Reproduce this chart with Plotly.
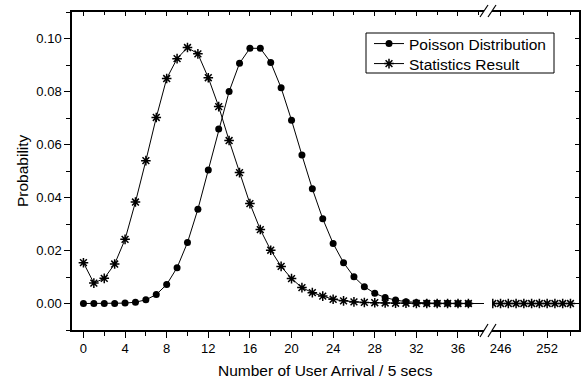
import plotly.graph_objects as go

# ---- data ----
poisson_x = list(range(0, 38))
poisson_y = [0.0000000, 0.0000007, 0.0000060, 0.0000339, 0.000144, 0.000490, 0.001388,
             0.003371, 0.007163, 0.01353, 0.02300, 0.03555, 0.05036, 0.06586, 0.07997,
             0.09063, 0.09630, 0.09630, 0.09095, 0.08138, 0.06917, 0.05600, 0.04327,
             0.03198, 0.02265, 0.01540, 0.01007, 0.00634, 0.00385, 0.00226, 0.00128,
             0.00070, 0.00037, 0.00019, 0.00010, 0.00005, 0.00002, 0.00001]

stat_x = list(range(0, 38)) + list(range(245, 256))
stat_y = [0.0154, 0.0077, 0.0095, 0.0149, 0.0242, 0.0383, 0.0539, 0.0702, 0.0849,
          0.0924, 0.0966, 0.0942, 0.0852, 0.0743, 0.0615, 0.0494, 0.0377, 0.0279,
          0.0201, 0.0140, 0.0094, 0.0060, 0.0041, 0.0028, 0.0016, 0.0010, 0.0006,
          0.0004, 0.0003, 0.0002, 0.0001, 0.0001, 0.0, 0.0, 0.0, 0.0, 0.0, 0.0] + [0.0] * 11

x1_ticks = [0, 4, 8, 12, 16, 20, 24, 28, 32, 36]
x2_ticks = [246, 252]
x2_minor = [249, 255]
y_ticks = [0.00, 0.02, 0.04, 0.06, 0.08, 0.10]

FONT = "Liberation Sans, Arial, sans-serif"
W, H = 585, 383
L, R, T, B = 72, 6, 12, 53
PW, PH = W - L - R, H - T - B

def px_x(p):
    return (p - L) / PW

def px_y(p):
    return (H - B - p) / PH

f1 = px_x(484)
f2 = px_x(492)
X1R = [-1.1, 38.5]
X2R = [244.9, 256.1]
YR = [-0.01, 0.11]

circle = dict(symbol="circle", size=7, color="black")
star = dict(symbol="asterisk-open", size=8, color="black", line=dict(color="black", width=1.5))
blk = dict(color="black", width=1)

fig = go.Figure()
fig.add_trace(go.Scatter(x=poisson_x, y=poisson_y, mode="lines+markers", name="Poisson Distribution",
                         line=blk, marker=circle, xaxis="x", yaxis="y", legend="legend"))
fig.add_trace(go.Scatter(x=stat_x, y=stat_y, mode="lines+markers", name="Statistics Result",
                         line=blk, marker=star, xaxis="x", yaxis="y", legend="legend2"))
fig.add_trace(go.Scatter(x=stat_x, y=stat_y, mode="lines+markers", name="Statistics Result",
                         showlegend=False, line=blk, marker=star, xaxis="x2", yaxis="y"))
# empty traces so the mirrored frame axes get drawn
for xa, ya in [("x3", "y"), ("x4", "y"), ("x2", "y2")]:
    fig.add_trace(go.Scatter(x=[None], y=[None], xaxis=xa, yaxis=ya, showlegend=False,
                             hoverinfo="skip", mode="lines"))

axis_common = dict(showgrid=False, zeroline=False, showline=True, linecolor="black", linewidth=1.5,
                   tickcolor="black", tickwidth=1, tickfont=dict(family=FONT, size=13, color="black"))

leg_common = dict(xanchor="left", yanchor="middle", borderwidth=0, bgcolor="rgba(0,0,0,0)",
                  font=dict(family=FONT, size=15.5, color="black"), itemwidth=30)

fig.update_layout(
    width=W, height=H,
    margin=dict(l=L, r=R, t=T, b=B),
    paper_bgcolor="white", plot_bgcolor="white",
    font=dict(family=FONT, color="black"),
    xaxis=dict(domain=[0, f1], range=X1R, tickvals=x1_ticks, ticks="outside", ticklen=6,
               minor=dict(dtick=2, tick0=0, ticks="outside", ticklen=4, tickcolor="black"),
               anchor="y", **axis_common),
    xaxis2=dict(domain=[f2, 1], range=X2R, tickvals=x2_ticks, ticks="outside", ticklen=6,
                minor=dict(tickvals=x2_minor, ticks="outside", ticklen=4, tickcolor="black"),
                anchor="y", **axis_common),
    xaxis3=dict(overlaying="x", side="top", anchor="y", range=X1R, tickvals=x1_ticks,
                ticks="inside", ticklen=4, showticklabels=False,
                minor=dict(dtick=2, tick0=0, ticks="inside", ticklen=3, tickcolor="black"),
                **axis_common),
    xaxis4=dict(overlaying="x2", side="top", anchor="y", range=X2R, tickvals=x2_ticks,
                ticks="inside", ticklen=4, showticklabels=False,
                minor=dict(tickvals=x2_minor, ticks="inside", ticklen=3, tickcolor="black"),
                **axis_common),
    yaxis=dict(range=YR, tickvals=y_ticks, tickformat=".2f", ticks="outside", ticklen=6,
               minor=dict(dtick=0.01, tick0=0, ticks="outside", ticklen=4, tickcolor="black"),
               anchor="x", **axis_common),
    yaxis2=dict(overlaying="y", side="right", anchor="x2", range=YR, tickvals=y_ticks,
                ticks="inside", ticklen=4, showticklabels=False,
                minor=dict(dtick=0.01, tick0=0, ticks="inside", ticklen=3, tickcolor="black"),
                **axis_common),
    legend=dict(x=px_x(369), y=px_y(44), **leg_common),
    legend2=dict(x=px_x(369), y=px_y(64), **leg_common),
    showlegend=True,
)

# legend frame
fig.add_shape(type="rect", xref="paper", yref="paper",
              x0=px_x(366), y0=px_y(33), x1=px_x(554), y1=px_y(73),
              line=dict(color="black", width=1), fillcolor="rgba(0,0,0,0)", layer="above")

# axis titles as annotations
fig.add_annotation(text="Number of User Arrival / 5 secs", xref="paper", yref="paper",
                   x=0.5, y=px_y(370), xanchor="center", yanchor="middle", showarrow=False,
                   font=dict(family=FONT, size=15.5, color="black"))
fig.add_annotation(text="Probability", xref="paper", yref="paper", textangle=-90,
                   x=px_x(22), y=px_y(171), xanchor="center", yanchor="middle", showarrow=False,
                   font=dict(family=FONT, size=15.5, color="black"))

# axis-break marks
for (y0, y1) in [(337, 324), (17, 5)]:
    for dx in (0, 8):
        fig.add_shape(type="line", xref="paper", yref="paper",
                      x0=px_x(480 + dx), y0=px_y(y0), x1=px_x(488 + dx), y1=px_y(y1),
                      line=dict(color="black", width=1.2))

fig.write_html("out.html")
